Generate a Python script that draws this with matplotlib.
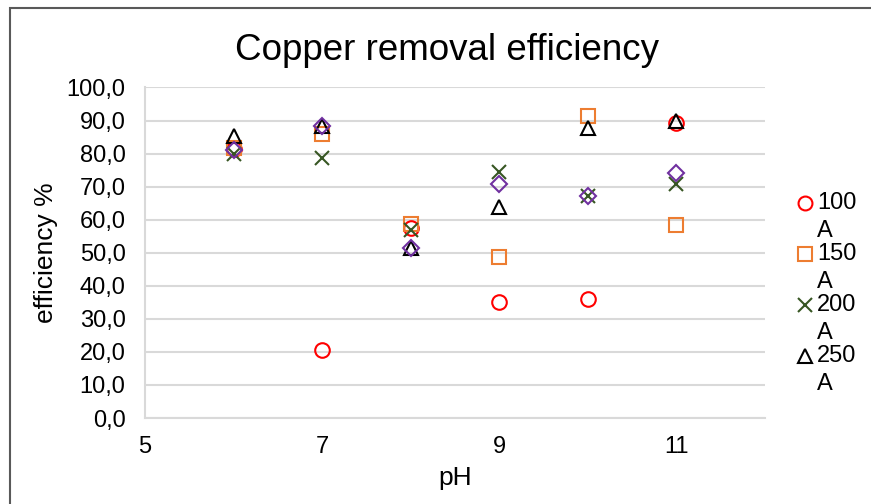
import matplotlib.pyplot as plt
from matplotlib.patches import Rectangle
from matplotlib.lines import Line2D

plt.rcParams['font.family'] = ['Liberation Sans', 'DejaVu Sans']

ph = [6, 7, 8, 9, 10, 11]
eff_100 = [81.5, 20.6, 57.5, 35.0, 35.9, 89.3]
eff_150 = [81.6, 85.8, 58.6, 48.7, 91.5, 58.5]
eff_200 = [79.8, 78.8, 57.0, 74.4, 67.2, 70.9]
eff_250 = [85.2, 88.2, 51.4, 63.7, 87.8, 89.9]
eff_300 = [81.0, 88.5, 51.5, 70.7, 67.2, 74.1]

currents = ["100", "150", "200", "250"]
yticks = [0, 10, 20, 30, 40, 50, 60, 70, 80, 90, 100]

W, H = 871, 504
fig = plt.figure(figsize=(W / 100, H / 100), dpi=100)
ax = fig.add_axes([0.1665, 0.1706, 0.7115, 0.6558])

# chart frame
fig.patches.append(Rectangle((10 / W, -0.1), 1.2, 1 - 8 / H + 0.1,
                             transform=fig.transFigure, fill=False,
                             edgecolor='#595959', linewidth=1.5))

series = [
    (eff_100, 'o', '#FF0000'),
    (eff_150, 's', '#ED7D31'),
    (eff_200, 'x', '#375623'),
    (eff_250, '^', '#000000'),
    (eff_300, 'D', '#7030A0'),
]
for vals, m, c in series:
    if m == 'x':
        ax.plot(ph, vals, ls='none', marker=m, ms=10, mew=1.5, color=c)
    elif m == 'D':
        ax.plot(ph, vals, ls='none', marker=m, ms=8, mew=1.5, mfc='none', mec=c)
    else:
        ax.plot(ph, vals, ls='none', marker=m, ms=10.5, mew=1.5, mfc='none', mec=c)

ax.set_xlim(5, 12)
ax.set_ylim(0, 100)
ax.set_xticks([5, 7, 9, 11])
ax.set_yticks(yticks)
ax.set_yticklabels([f"{v:.1f}".replace('.', ',') for v in yticks])
ax.grid(axis='y', color='#D9D9D9', linewidth=1.5)
ax.set_axisbelow(True)
for s in ['top', 'right']:
    ax.spines[s].set_visible(False)
for s in ['left', 'bottom']:
    ax.spines[s].set_color('#D9D9D9')
    ax.spines[s].set_linewidth(1.5)
ax.tick_params(axis='y', length=0, labelsize=17, pad=14)
ax.tick_params(axis='x', length=0, labelsize=17, pad=13)
ax.set_xlabel("pH", fontsize=19, labelpad=6)
ax.set_ylabel("efficiency %", fontsize=19, labelpad=6)
fig.text(447 / W, 1 - 50 / H, "Copper removal efficiency",
         fontsize=26.5, ha='center', va='center')

# legend: marker next to the number, unit wrapped onto the next line
for i, (cur, (vals, m, c)) in enumerate(zip(currents, series)):
    y = 203 + i * 51
    if m == 'x':
        mk = dict(marker=m, ms=10, mew=1.5, color=c)
    else:
        mk = dict(marker=m, ms=10, mew=1.5, mfc='none', mec=c)
    fig.add_artist(Line2D([805 / W], [1 - y / H], ls='none',
                          transform=fig.transFigure, **mk))
    fig.text(817 / W, 1 - y / H, cur, fontsize=17, ha='left', va='center')
    fig.text(817 / W, 1 - (y + 28) / H, "A", fontsize=17, ha='left', va='center')

fig.savefig("out.png", dpi=100)
